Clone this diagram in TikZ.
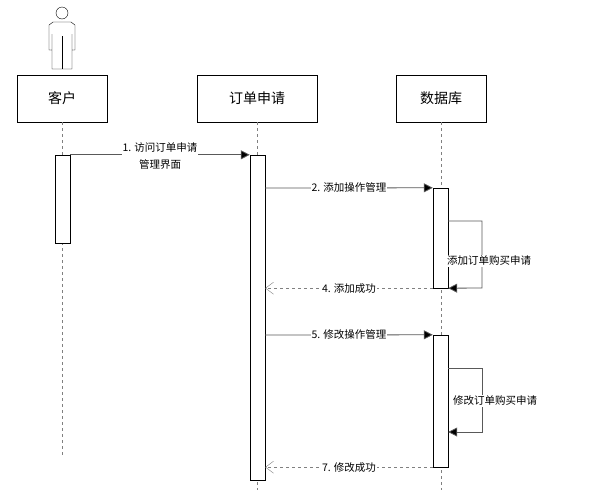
\documentclass[tikz,border=0pt]{standalone}
\usepackage{fontspec}
\setmainfont{Noto Sans CJK SC}
\usetikzlibrary{arrows.meta}
\tikzset{
  obj/.style={draw,minimum width=90pt,minimum height=47pt,font=\fontsize{14}{14}\selectfont},
  life/.style={draw=gray,dashed},
  act/.style={draw,fill=white,minimum width=15pt,inner sep=0pt},
  msg/.style={draw=gray!70!black,thick,-{Triangle[length=9pt,width=9pt,fill=black]}},
  ret/.style={draw=gray,dashed,-{Straight Barb[length=8pt,width=12pt]}},
  lbl/.style={fill=white,inner sep=1pt,font=\fontsize{10.5}{17}\selectfont,align=center}
}
\begin{document}
\begin{tikzpicture}[x=1pt,y=-1pt]
\useasboundingbox (0,0) rectangle (601,496);
% objects
\node[obj] (kh) at (62,98.5) {客户};
\node[obj,minimum width=120pt] (dd) at (257,98.5) {订单申请};
\node[obj] (db) at (441,98.5) {数据库};
\coordinate (khEnd) at (62,455);
\coordinate (ddEnd) at (257,490);
\coordinate (dbEnd) at (441,490);
\draw[life] (kh.south) -- (khEnd);
\draw[life] (dd.south) -- (ddEnd);
\draw[life] (db.south) -- (dbEnd);
% actor
\draw (62,13) circle (6);
\draw[fill=white] (53,22) -- (71,22) -- (75,25) -- (75,50) -- (72,50) -- (72,34) -- (72,69) -- (52,69) -- (52,34) -- (52,50) -- (49,50) -- (49,25) -- cycle;
\draw (62,36) -- (62,69);
% activations
\node[act,minimum height=88pt] (a1) at (62.5,199) {};
\node[act,minimum height=325pt] (a2) at (257.5,317.5) {};
\node[act,minimum height=100pt] (a3) at (440.5,238) {};
\node[act,minimum height=132pt] (a4) at (440.5,401) {};
% messages
\draw[msg] (a1.north east) -- (a2.north west) node[lbl,midway,yshift=-1pt] {1. 访问订单申请\\管理界面};
\draw[msg] (a2.east |- 0,188) -- (a3.north west) node[lbl,midway] {2. 添加操作管理};
\draw[msg] (a3.east |- 0,221) -- (482,221) -- (482,288) -- (a3.south east);
\node[lbl,anchor=west] (s3) at (446,261) {添加订单购买申请};
\draw[ret] (a3.south west) -- (a2.east |- a3.south west) node[lbl,midway] {4. 添加成功};
\draw[msg] (a2.east |- 0,335) -- (a4.north west) node[lbl,midway] {5. 修改操作管理};
\draw[msg] (a4.east |- 0,368) -- (482,368) -- (482,432) -- (a4.east |- 0,432);
\node[lbl,anchor=west] (s6) at (452,401) {修改订单购买申请};
\draw[ret] (a4.south west) -- (a2.east |- a4.south west) node[lbl,midway] {7. 修改成功};
\end{tikzpicture}
\end{document}
